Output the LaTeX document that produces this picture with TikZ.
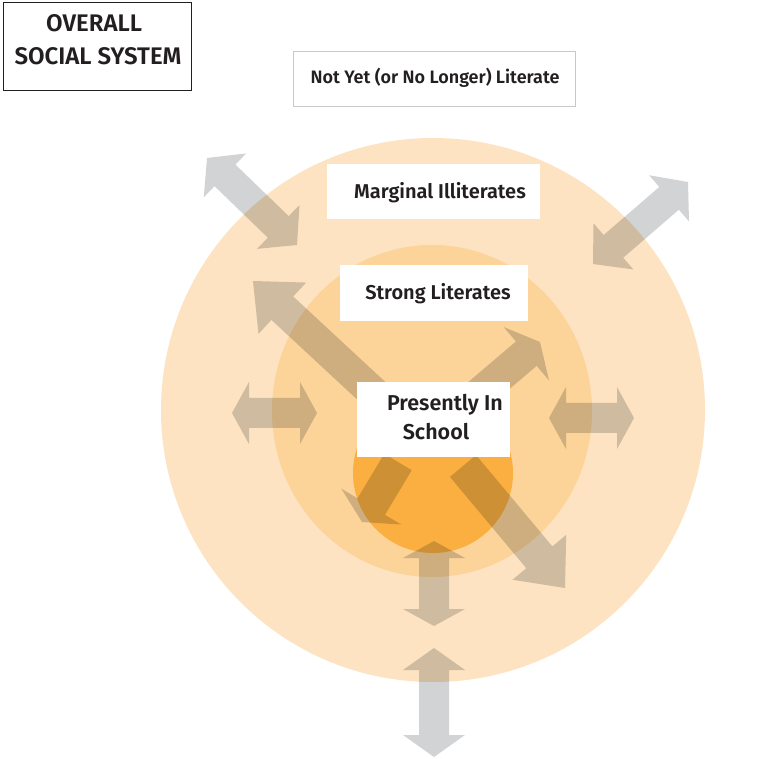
\documentclass[tikz,border=0pt]{standalone}
\usepackage{fontspec}
\newfontfamily\labfont{Fira Sans SemiBold}
\usetikzlibrary{calc}

\definecolor{outerring}{HTML}{FDE3C1}
\definecolor{middlering}{HTML}{FCD399}
\definecolor{innerdisc}{HTML}{FBAF40}
\definecolor{arrowgray}{HTML}{D1D3D4}
\definecolor{ink}{HTML}{231F20}
\definecolor{boxgray}{HTML}{C8C8C8}

% block arrow with a head at both ends:
% #1 name, #2 tip A, #3 tip B, #4 half shaft width, #5 half head width,
% #6 head length at A, #7 head length at B
\newcommand\twowayarrow[7]{%
  \coordinate (#1-ha) at ($(#2)!#6!(#3)$);
  \coordinate (#1-hb) at ($(#3)!#7!(#2)$);
  \fill[arrowstyle] (#2)
    -- ($(#1-ha)!#5!90:(#3)$) -- ($(#1-ha)!#4!90:(#3)$)
    -- ($(#1-hb)!#4!90:(#3)$) -- ($(#1-hb)!#5!90:(#3)$)
    -- (#3)
    -- ($(#1-hb)!#5!-90:(#3)$) -- ($(#1-hb)!#4!-90:(#3)$)
    -- ($(#1-ha)!#4!-90:(#3)$) -- ($(#1-ha)!#5!-90:(#3)$)
    -- cycle;}

% block arrow with a flat tail:
% #1 name, #2 tail, #3 tip, #4 half shaft width, #5 half head width, #6 head length
\newcommand\onewayarrow[6]{%
  \coordinate (#1-hb) at ($(#3)!#6!(#2)$);
  \fill[arrowstyle] ($(#2)!#4!90:(#3)$)
    -- ($(#1-hb)!#4!90:(#3)$) -- ($(#1-hb)!#5!90:(#3)$)
    -- (#3)
    -- ($(#1-hb)!#5!-90:(#3)$) -- ($(#1-hb)!#4!-90:(#3)$)
    -- ($(#2)!#4!-90:(#3)$) -- cycle;}

\tikzset{
  arrowstyle/.style={fill=arrowgray},
  labelbox/.style={fill=white, inner sep=0pt, anchor=north west},
  lab/.style={text=ink, anchor=base, inner sep=0pt, font=\labfont\fontsize{20}{24}\selectfont},
  schoollab/.style={lab, font=\labfont\fontsize{21.5}{25}\selectfont},
  biglab/.style={lab, font=\labfont\fontsize{24}{30}\selectfont},
  midlab/.style={lab, font=\labfont\fontsize{18}{22}\selectfont},
}

\begin{document}
\begin{tikzpicture}[x=1pt, y=-1pt]
\useasboundingbox (0,0) rectangle (761,759);

% nested groups
\fill[outerring] (433,410) circle (272);
\fill[middlering] (432,411) ellipse [x radius=160, y radius=166];
\fill[innerdisc] (433,473) circle (80);

% arrow end points
\coordinate (tlA) at (207,158);  \coordinate (tlB) at (297,245);
\coordinate (trA) at (593,264);  \coordinate (trB) at (688,182);
\coordinate (lhA) at (232,413);  \coordinate (lhB) at (317,413);
\coordinate (rhA) at (549,418);  \coordinate (rhB) at (634,418);
\coordinate (biA) at (434,541);  \coordinate (biB) at (434,626);
\coordinate (boA) at (434,648);  \coordinate (boB) at (434,757);
\coordinate (nwT) at (392,410);  \coordinate (nwH) at (253,281);
\coordinate (seT) at (463,466);  \coordinate (seH) at (565,588);
\coordinate (swT) at (398,462);  \coordinate (swH) at (362,522);
\coordinate (neT) at (466,405);  \coordinate (neH) at (540,342);

\begin{scope}[blend mode=multiply]
  \twowayarrow{tl}{tlA}{tlB}{15pt}{30.5pt}{25pt}{26pt}
  \twowayarrow{tr}{trA}{trB}{15pt}{30.5pt}{27pt}{25pt}
  \twowayarrow{lh}{lhA}{lhB}{15pt}{31pt}{17pt}{17pt}
  \twowayarrow{rh}{rhA}{rhB}{15pt}{31pt}{17pt}{17pt}
  \twowayarrow{bi}{biA}{biB}{15pt}{31pt}{17pt}{17pt}
  \twowayarrow{bo}{boA}{boB}{15pt}{31pt}{22pt}{22pt}
  \onewayarrow{nw}{nwT}{nwH}{16pt}{35pt}{40pt}
  \onewayarrow{se}{seT}{seH}{17pt}{35pt}{40pt}
  \onewayarrow{sw}{swT}{swH}{16pt}{35pt}{18pt}
  \onewayarrow{ne}{neT}{neH}{16pt}{35pt}{18pt}
\end{scope}

% boxes
\node[draw=ink, line width=1.3pt, minimum width=188pt, minimum height=88pt,
      inner sep=0pt, anchor=north west] (overallbox) at (3,2) {};
\node[draw=boxgray, fill=white, line width=1.3pt, minimum width=282pt, minimum height=55pt,
      inner sep=0pt, anchor=north west] (notyetbox) at (293,51) {};
\node[labelbox, minimum width=213pt, minimum height=55pt] (marginalbox) at (327,164) {};
\node[labelbox, minimum width=188pt, minimum height=56pt] (strongbox) at (340,265) {};
\node[labelbox, minimum width=153pt, minimum height=75pt] (schoolbox) at (357,382) {};

% labels
\node[biglab] (overall1) at (94,32) {OVERALL};
\node[biglab] (overall2) at (98,65) {SOCIAL SYSTEM};
\node[midlab] (notyet) at (435,84) {Not Yet (or No Longer) Literate};
\node[lab] (marginal) at (440,199) {Marginal Illiterates};
\node[lab] (strong) at (438,300) {Strong Literates};
\node[schoollab] (school1) at (445,410) {Presently In};
\node[schoollab] (school2) at (436,439) {School};
\end{tikzpicture}
\end{document}
